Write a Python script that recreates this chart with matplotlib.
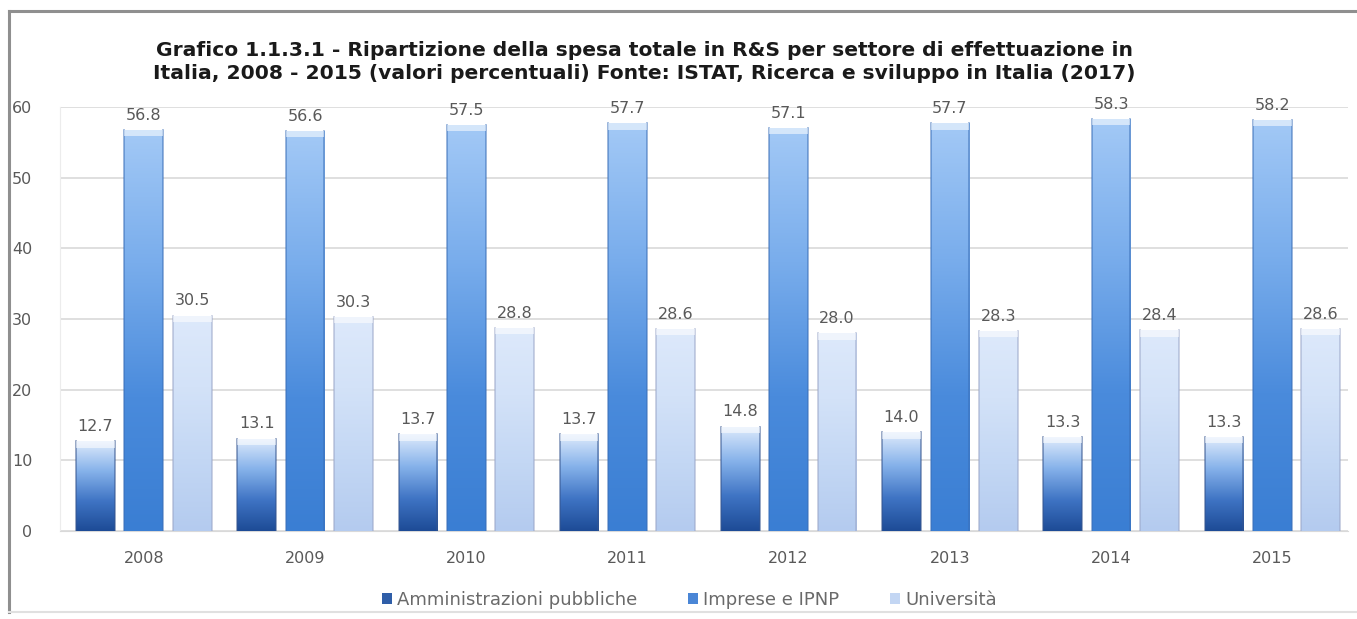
import numpy as np
import matplotlib
matplotlib.use("Agg")
import matplotlib.pyplot as plt
from matplotlib.colors import LinearSegmentedColormap
from matplotlib.patches import Rectangle, Patch
from matplotlib.lines import Line2D

years = ["2008", "2009", "2010", "2011", "2012", "2013", "2014", "2015"]
amministrazioni = [12.7, 13.1, 13.7, 13.7, 14.8, 14.0, 13.3, 13.3]
imprese = [56.8, 56.6, 57.5, 57.7, 57.1, 57.7, 58.3, 58.2]
universita = [30.5, 30.3, 28.8, 28.6, 28.0, 28.3, 28.4, 28.6]
series_names = ["Amministrazioni pubbliche", "Imprese e IPNP", "Università"]

# bottom -> top colour ramps for each series
ramps = [
    ["#1d4b96", "#3f74c4", "#86b2ea", "#dfebfc"],
    ["#3a7ed3", "#4a8bdc", "#79adec", "#a3c9f6"],
    ["#b4cbef", "#c3d7f4", "#d3e2f8", "#dde9fb"],
]
edges = ["#35558f", "#3a6fb8", "#9ba7c9"]
legend_colors = ["#2f5ea8", "#4a86d6", "#c3d6f3"]

title = ("Grafico 1.1.3.1 - Ripartizione della spesa totale in R&S per settore di effettuazione in\n"
         "Italia, 2008 - 2015 (valori percentuali) Fonte: ISTAT, Ricerca e sviluppo in Italia (2017)")

fig = plt.figure(figsize=(13.57, 6.19), dpi=100)
ax = fig.add_axes([0.0442, 0.142, 0.9492, 0.685])

x = np.arange(len(years))
width = 0.24
offsets = [-0.30, 0.0, 0.30]
data = [amministrazioni, imprese, universita]

grad = np.linspace(0, 1, 256).reshape(-1, 1)
for vals, off, ramp, ec in zip(data, offsets, ramps, edges):
    cmap = LinearSegmentedColormap.from_list("r", ramp)
    bars = ax.bar(x + off, vals, width, color="none", edgecolor="none", zorder=3)
    for b, v in zip(bars, vals):
        x0, w, h = b.get_x(), b.get_width(), b.get_height()
        img = ax.imshow(grad, extent=[x0, x0 + w, 0, h], origin="lower",
                        cmap=cmap, aspect="auto", zorder=3)
        img.set_clip_path(b)
        # thin darker rim on both sides
        ax.plot([x0, x0], [0, h], color=ec, lw=1.2, alpha=0.6, zorder=4)
        ax.plot([x0 + w, x0 + w], [0, h], color=ec, lw=1.2, alpha=0.6, zorder=4)
        # pale cap at the top of each bar
        ax.add_patch(Rectangle((x0, h - 0.9), w, 0.9, color="white", alpha=0.55,
                               lw=0, zorder=4))
        ax.text(x0 + w / 2, h + 1.0, f"{v:.1f}", ha="center", va="bottom",
                fontsize=11.5, color="#595959", zorder=5)

ax.set_xlim(-0.52, 7.47)
ax.set_ylim(0, 60)
ax.set_yticks(range(0, 61, 10))
ax.set_xticks(x)
ax.set_xticklabels(years)
ax.tick_params(axis="both", length=0, labelsize=11.5, labelcolor="#595959")
ax.tick_params(axis="y", pad=20)
ax.tick_params(axis="x", pad=14)
ax.yaxis.grid(True, color="#d9d9d9", lw=1.2, zorder=0)
ax.set_axisbelow(True)
for side in ["top", "right"]:
    ax.spines[side].set_visible(False)
ax.spines["left"].set_color("#ececec")
ax.spines["bottom"].set_color("#d9d9d9")

fig.text(0.475, 0.9, title, ha="center", va="center", fontsize=14.6,
         fontweight="bold", color="#1a1a1a", linespacing=1.3)

handles = [Patch(facecolor=c, edgecolor="none") for c in legend_colors]
fig.legend(handles, series_names, loc="center", bbox_to_anchor=(0.508, 0.031),
           ncol=3, frameon=False, fontsize=13, labelcolor="#6a6a6a",
           handlelength=0.55, handleheight=0.55, handletextpad=0.3, columnspacing=2.8)

# outer chart frame: strong top/left edges, faint bottom
fx0, fy_top, fy_bot = 9 / 1357, 1 - 11 / 619, 1 - 612 / 619
fig.lines.append(Line2D([fx0, 1.0], [fy_top, fy_top], transform=fig.transFigure,
                        color="#8f8f8f", lw=2.2))
fig.lines.append(Line2D([fx0, fx0], [fy_bot, fy_top], transform=fig.transFigure,
                        color="#8f8f8f", lw=2.2))
fig.lines.append(Line2D([fx0, 1.0], [fy_bot, fy_bot], transform=fig.transFigure,
                        color="#e0e0e0", lw=1.5))

fig.savefig("out.png", dpi=100)
